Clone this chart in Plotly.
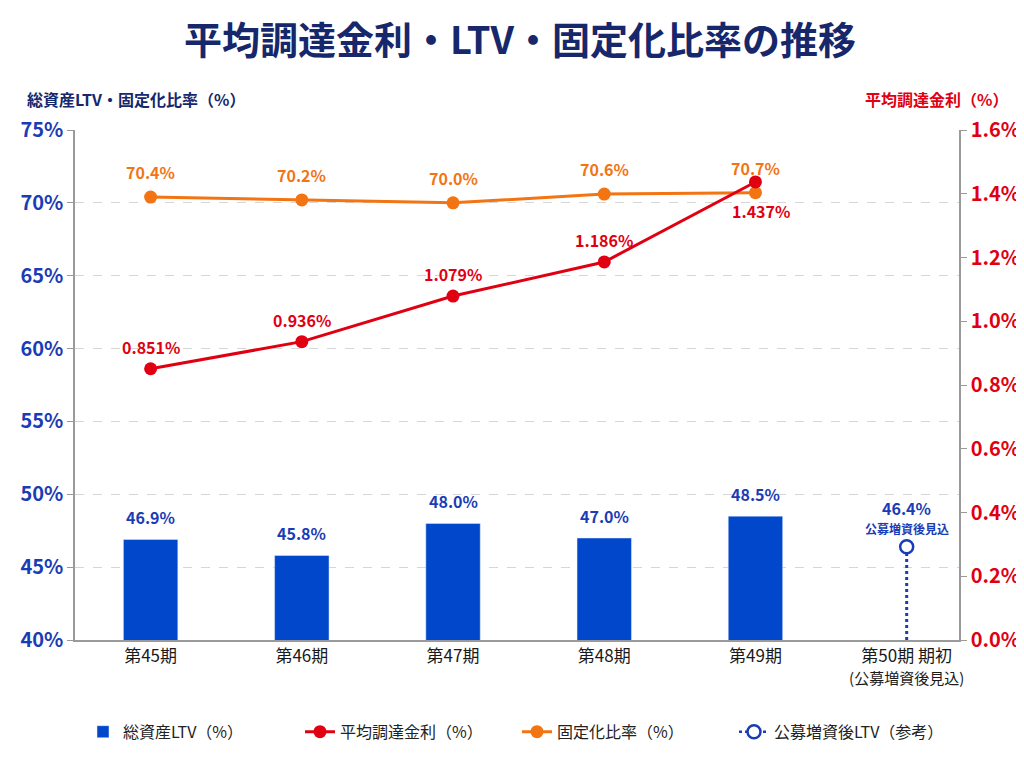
import plotly.graph_objects as go

categories = ["第45期", "第46期", "第47期", "第48期", "第49期",
              "第50期 期初<br><span style='font-size:15px'>(公募増資後見込)</span>"]
ltv = [46.9, 45.8, 48.0, 47.0, 48.5]
fixed_ratio = [70.4, 70.2, 70.0, 70.6, 70.7]
avg_rate = [0.851, 0.936, 1.079, 1.186, 1.437]
post_ltv = 46.4
post_note = "公募増資後見込"
left_ticks = [40, 45, 50, 55, 60, 65, 70, 75]
right_ticks = [0.0, 0.2, 0.4, 0.6, 0.8, 1.0, 1.2, 1.4, 1.6]

FONT = "Noto Sans CJK JP"
NAVY = "#16286b"
BLUE = "#0047cc"
LBLUE = "#1a3cb5"
RED = "#e00012"
ORANGE = "#f27413"

fig = go.Figure()

fig.add_trace(go.Bar(
    x=categories[:5], y=ltv, name="総資産LTV（%）",
    marker=dict(color=BLUE), width=0.36, yaxis="y", legendrank=1,
))

fig.add_trace(go.Scatter(
    x=categories[:5], y=fixed_ratio, name="固定化比率（%）",
    mode="lines+markers", line=dict(color=ORANGE, width=3),
    marker=dict(color=ORANGE, size=13),
    cliponaxis=False, yaxis="y", legendrank=3,
))

fig.add_trace(go.Scatter(
    x=categories[:5], y=avg_rate, name="平均調達金利（%）",
    mode="lines+markers", line=dict(color=RED, width=3),
    marker=dict(color=RED, size=13),
    cliponaxis=False, yaxis="y2", legendrank=2,
))

fig.add_trace(go.Scatter(
    x=[categories[5], categories[5]], y=[left_ticks[0], post_ltv],
    mode="lines", line=dict(color=LBLUE, width=3, dash="dot"),
    showlegend=False, yaxis="y", hoverinfo="skip",
))

fig.add_trace(go.Scatter(
    x=[categories[5]], y=[post_ltv], name="公募増資後LTV（参考）",
    mode="lines+markers", line=dict(color=LBLUE, width=2.5, dash="dot"),
    marker=dict(color="white", size=13, line=dict(color=LBLUE, width=2.5)),
    cliponaxis=False, yaxis="y", legendrank=4,
))

annotations = [
    dict(text="<b>総資産LTV・固定化比率（%）</b>", xref="paper", yref="paper",
         x=-0.057, y=1.06, xanchor="left", yanchor="middle", showarrow=False,
         font=dict(size=16, color=NAVY, family=FONT)),
    dict(text="<b>平均調達金利（%）</b>", xref="paper", yref="paper",
         x=1.058, y=1.06, xanchor="right", yanchor="middle", showarrow=False,
         font=dict(size=16, color=RED, family=FONT)),
]
for c, v in zip(categories[:5], ltv):
    annotations.append(dict(x=c, y=v, xref="x", yref="y", text=f"<b>{v:.1f}%</b>",
                            showarrow=False, yanchor="middle", yshift=22,
                            font=dict(size=16, color=LBLUE, family=FONT)))
for c, v in zip(categories[:5], fixed_ratio):
    annotations.append(dict(x=c, y=v, xref="x", yref="y", text=f"<b>{v:.1f}%</b>",
                            showarrow=False, yanchor="middle", yshift=25,
                            font=dict(size=16, color=ORANGE, family=FONT)))
for i, (c, v) in enumerate(zip(categories[:5], avg_rate)):
    last = i == len(avg_rate) - 1
    annotations.append(dict(x=c, y=v, xref="x", yref="y2", text=f"<b>{v:.3f}%</b>",
                            showarrow=False, yanchor="middle",
                            yshift=-29 if last else 22, xshift=6 if last else 0,
                            font=dict(size=16, color=RED, family=FONT)))
annotations.append(dict(x=categories[5], y=post_ltv, xref="x", yref="y",
                        text=f"<b>{post_ltv:.1f}%</b>", showarrow=False, yanchor="middle",
                        yshift=39, font=dict(size=16, color=LBLUE, family=FONT)))
annotations.append(dict(x=categories[5], y=post_ltv, xref="x", yref="y",
                        text=f"<b>{post_note}</b>", showarrow=False, yanchor="middle",
                        yshift=18, font=dict(size=12, color=LBLUE, family=FONT)))

fig.update_layout(
    width=1024, height=768,
    paper_bgcolor="white", plot_bgcolor="white",
    margin=dict(l=62, r=70, t=122, b=136),
    font=dict(family=FONT, color="#222"),
    title=dict(text="<b>平均調達金利・LTV・固定化比率の推移</b>", x=0.5, xanchor="center",
               y=0.957, yanchor="middle", font=dict(size=38, color=NAVY, family=FONT)),
    bargap=0.5,
    xaxis=dict(
        type="category", categoryorder="array", categoryarray=categories,
        showline=True, linecolor="#9a9a9a", linewidth=1.5,
        ticks="", tickfont=dict(size=17, color="#1a1a1a", family=FONT),
        showgrid=False,
    ),
    yaxis=dict(
        range=[40, 75], tickvals=left_ticks, ticktext=[f"{v}%" for v in left_ticks],
        showline=True, linecolor="#9a9a9a", linewidth=1.5,
        ticks="outside", ticklen=6, tickcolor="#9a9a9a",
        tickfont=dict(size=20, color=LBLUE, family=FONT, weight="bold"),
        showgrid=True, gridcolor="#d6d6d6", griddash="dash", gridwidth=1,
        zeroline=False,
    ),
    yaxis2=dict(
        range=[0, 1.6], tickvals=right_ticks, ticktext=[f"{v:.1f}%" for v in right_ticks],
        overlaying="y", side="right",
        showline=True, linecolor="#9a9a9a", linewidth=1.5,
        ticks="outside", ticklen=6, tickcolor="#9a9a9a",
        tickfont=dict(size=20, color=RED, family=FONT, weight="bold"),
        showgrid=False, zeroline=False,
    ),
    legend=dict(orientation="h", x=0.5, xanchor="center", y=-0.18, yanchor="middle",
                font=dict(size=16, color="#222", family=FONT),
                entrywidth=172, entrywidthmode="pixels",
                traceorder="normal"),
    annotations=annotations,
)

fig.write_html("out.html")
